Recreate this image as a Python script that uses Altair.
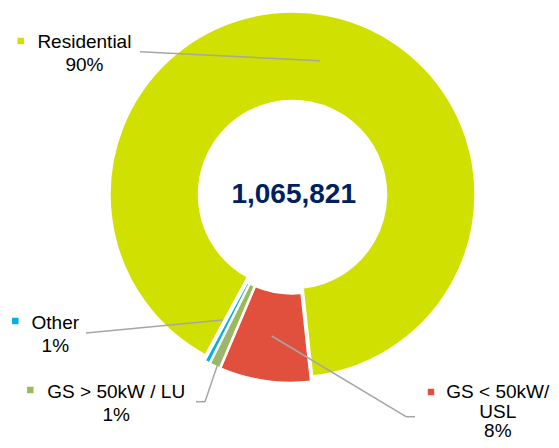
import altair as alt
import pandas as pd
import math

# ---- data ----
categories = ["Residential", "GS < 50kW/\nUSL", "GS > 50kW / LU", "Other"]
shares = [90.4, 8.1, 1.0, 0.5]
pct_labels = ["90%", "8%", "1%", "1%"]
colors = ["#d0e000", "#e1503c", "#9bbb59", "#00b0e0"]
total_label = "1,065,821"

df = pd.DataFrame({"cat": categories, "share": shares, "ord": list(range(len(categories)))})
lab = pd.DataFrame({"cat": categories, "txt": [c + "\n" + p for c, p in zip(categories, pct_labels)]})

# ---- layout ----
W, H = 543, 432
CX, CY = 284.5, 186.5
start = math.radians(-151.6)
theta_scale = alt.Scale(domain=[0, 100], range=[start, start + 2 * math.pi])
color_scale = alt.Scale(domain=categories, range=colors)
FONT = "Liberation Sans"

base = alt.Chart(df).transform_window(
    cum="sum(share)", sort=[alt.SortField("ord")], frame=[None, 0]
).transform_calculate(st="datum.cum - datum.share")

def arcs(filt, cx, cy):
    return base.transform_filter(filt).mark_arc(
        radius=183, radius2=93.5, stroke="white", strokeWidth=2.5
    ).encode(
        theta=alt.Theta("st:Q", scale=theta_scale),
        theta2="cum:Q",
        color=alt.Color("cat:N", scale=color_scale, legend=None),
        x=alt.value(cx), y=alt.value(cy),
    )

res = arcs("datum.ord == 0", CX, CY)
others = arcs("datum.ord > 0", CX - 1.0, CY + 5.4)

center = alt.Chart(pd.DataFrame({"t": [total_label]})).mark_text(
    font=FONT, fontSize=28, fontWeight="bold", color="#002060", align="center", baseline="alphabetic"
).encode(text="t:N", x=alt.value(285.7), y=alt.value(195))

# label layout: (text x, first baseline y, marker x, marker y, line height) in chart coords
label_pos = {
    0: (76.4, 40.3, 12.7, 33.0, 22.5),
    1: (489.8, 390.0, 423.0, 384.0, 19.5),
    2: (108.2, 390.3, 22.3, 382.0, 22.5),
    3: (47.3, 321.3, 7.3, 313.0, 22.5),
}
layers = [res, others, center]

# leader lines (segments) in chart coords
segments = [
    (132, 43.7, 312, 52.7),
    (78, 325, 214.7, 312),
    (188, 393.7, 197, 393.7), (197, 393.7, 223, 317),
    (263.7, 328, 398, 408.7), (398, 408.7, 407, 408.7),
]
seg_df = pd.DataFrame({"k": [0]})
for (x1, y1, x2, y2) in segments:
    layers.append(alt.Chart(seg_df).mark_rule(color="#a6a6a6", strokeWidth=1.5).encode(
        x=alt.value(x1), y=alt.value(y1), x2=alt.value(x2), y2=alt.value(y2)))

for i in range(len(categories)):
    tx, ty, mx, my, lh = label_pos[i]
    d = lab.iloc[[i]]
    layers.append(alt.Chart(d).mark_text(
        font=FONT, fontSize=19, color="#000000", align="center", baseline="alphabetic",
        lineBreak="\n", lineHeight=lh
    ).encode(text="txt:N", x=alt.value(tx), y=alt.value(ty)))
    layers.append(alt.Chart(d).mark_square(size=42, opacity=1, filled=True).encode(
        color=alt.Color("cat:N", scale=color_scale, legend=None),
        x=alt.value(mx), y=alt.value(my)))

chart = alt.layer(*layers).properties(
    width=W, height=H, padding=0, autosize=alt.AutoSizeParams(type="none")
).configure_view(stroke=None)

chart.save("out.html", embed_options={"renderer": "svg", "actions": False})
